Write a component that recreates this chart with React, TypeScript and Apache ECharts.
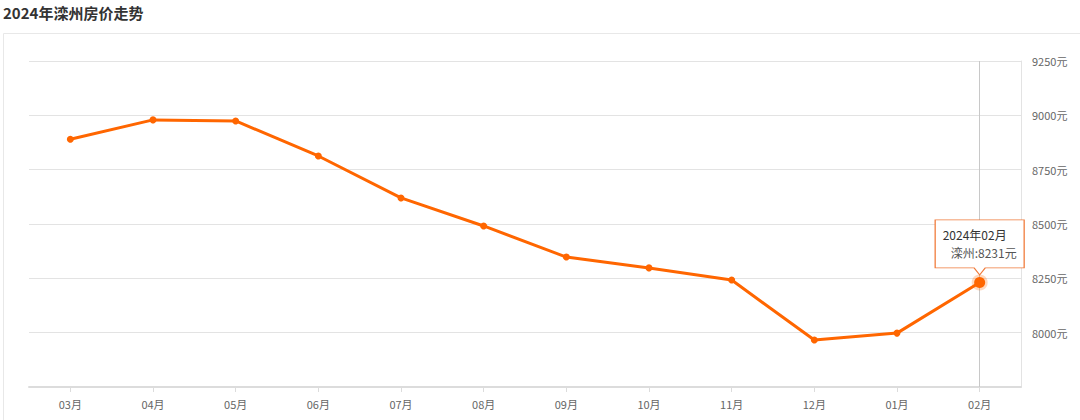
import React, { useEffect, useRef } from "react";
import * as echarts from "echarts";

const titleText = "2024年滦州房价走势";
const cityName = "滦州";
const yearLabel = "2024年";
const months = ["03月", "04月", "05月", "06月", "07月", "08月", "09月", "10月", "11月", "12月", "01月", "02月"];
const prices = [8890, 8979, 8974, 8813, 8620, 8491, 8348, 8298, 8242, 7966, 7998, 8231];
const yMin = 7750;
const yMax = 9250;
const yStep = 250;

const ORANGE = "#ff6600";
const FONT = "'Noto Sans CJK SC', 'Noto Sans', sans-serif";

export default function App() {
  const ref = useRef<HTMLDivElement>(null);
  useEffect(() => {
    if (!ref.current) return;
    const chart = echarts.init(ref.current, undefined, { renderer: "svg" });
    const lastIdx = months.length - 1;
    const lastCoord = [months[lastIdx], prices[lastIdx]];
    chart.setOption({
      animation: false,
      textStyle: { fontFamily: FONT },
      title: {
        text: titleText,
        left: -2,
        top: 0,
        textStyle: { fontSize: 15, fontWeight: "bold", color: "#333", fontFamily: FONT },
      },
      graphic: [
        {
          type: "rect",
          shape: { x: 3.5, y: 33.5, width: 1090, height: 420 },
          style: { fill: "none", stroke: "#e8e8e8", lineWidth: 1 },
          silent: true,
          z: -1,
        },
      ],
      grid: { left: 29, right: 59, top: 61, bottom: 33, containLabel: false },
      xAxis: {
        type: "category",
        data: months,
        boundaryGap: true,
        axisLine: { show: true, lineStyle: { color: "#dcdcdc", width: 2 } },
        axisTick: { show: true, alignWithLabel: true, length: 5, lineStyle: { color: "#dcdcdc" } },
        axisLabel: { color: "#666", fontSize: 11, margin: 11, fontFamily: FONT },
        splitLine: { show: false },
      },
      yAxis: {
        type: "value",
        position: "right",
        min: yMin,
        max: yMax,
        interval: yStep,
        axisLine: { show: true, lineStyle: { color: "#e3e3e3", width: 1 } },
        axisTick: { show: false },
        axisLabel: {
          color: "#666",
          fontSize: 11,
          margin: 11,
          showMinLabel: false,
          formatter: (v: number) => `${v}元`,
          fontFamily: FONT,
        },
        splitLine: { show: true, lineStyle: { color: "#e3e3e3", width: 1 } },
      },
      series: [
        {
          type: "line",
          data: prices,
          symbol: "circle",
          symbolSize: 7,
          showAllSymbol: true,
          lineStyle: { color: ORANGE, width: 3 },
          itemStyle: { color: ORANGE },
          z: 3,
          markLine: {
            silent: true,
            symbol: "none",
            label: { show: false },
            lineStyle: { color: "#c8c8c8", width: 1, type: "solid" },
            data: [{ xAxis: months[lastIdx] }],
            z: 1,
          },
          markPoint: {
            silent: true,
            data: [
              {
                coord: lastCoord,
                symbol: "circle",
                symbolSize: 11,
                itemStyle: { color: ORANGE, borderColor: "rgba(255,102,0,0.25)", borderWidth: 5 },
                label: { show: false },
              },
              {
                coord: lastCoord,
                symbol: "path://M0,0 L89,0 L89,48 L50,48 L44.5,55 L39,48 L0,48 Z",
                symbolSize: [89, 55],
                symbolKeepAspect: false,
                symbolOffset: [0, -35],
                itemStyle: { color: "#fff", borderColor: "#f07a3a", borderWidth: 1 },
                label: {
                  show: true,
                  position: "inside",
                  offset: [0, -4],
                  formatter: `{a|${yearLabel}${months[lastIdx]}}\n{b|${cityName}:${prices[lastIdx]}元}`,
                  rich: {
                    a: { width: 74, align: "left", fontSize: 12, color: "#333", lineHeight: 18, fontFamily: FONT },
                    b: { width: 74, align: "right", fontSize: 12, color: "#555", lineHeight: 18, fontFamily: FONT },
                  },
                },
              },
            ],
          },
        },
      ],
    });
    return () => chart.dispose();
  }, []);
  return (
    <div
      ref={ref}
      style={{ position: "absolute", left: 0, top: 0, width: 1080, height: 420, background: "#fff" }}
    />
  );
}
